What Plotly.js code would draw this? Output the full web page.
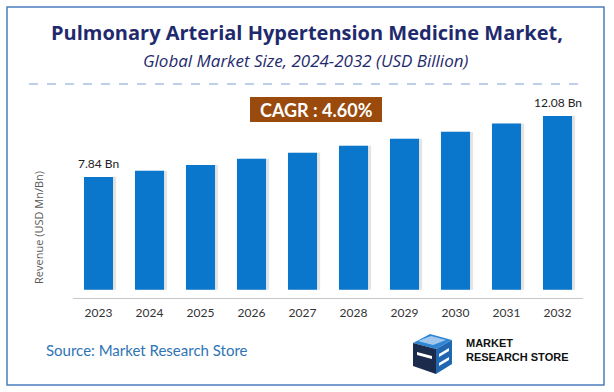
<!DOCTYPE html>
<html><head><meta charset="utf-8">
<script src="https://cdn.plot.ly/plotly-3.0.1.min.js"></script>
<style>html,body{margin:0;padding:0;background:#fff;}#chart{width:614px;height:392px;}</style>
</head><body><div id="chart"></div>
<script>
const years = ['2023','2024','2025','2026','2027','2028','2029','2030','2031','2032'];
const revenue = [7.84, 8.28, 8.67, 9.11, 9.53, 10.01, 10.50, 10.99, 11.56, 12.08];
const labeledIdx = [0, 9];
const labelText = ['7.84 Bn', '12.08 Bn'];
const titleText = 'Pulmonary Arterial Hypertension Medicine Market,';
const subtitleText = 'Global Market Size, 2024-2032 (USD Billion)';
const cagrText = 'CAGR : 4.60%';
const sourceText = 'Source: Market Research Store';
const logoText = ['MARKET', 'RESEARCH STORE'];

const W = 614, H = 392, L = 73, R = 583, T = 100, B = 298;
const px = x => (x - L) / (R - L);
const py = y => (B - y) / (B - T);

const barW = 0.57;
const traces = [
  {type:'bar', x: years, y: revenue, width: barW, offset: -barW/2 + 0.06,
   marker:{color:'rgba(120,120,120,0.2)'}, hoverinfo:'skip', showlegend:false},
  {type:'bar', x: years, y: revenue, width: barW, offset: -barW/2,
   marker:{color:'#0a77cc'}, showlegend:false}
];

const annotations = [
  {text:'<b>'+titleText+'</b>', xref:'paper', yref:'paper', x:px(307), y:py(33), showarrow:false,
   font:{family:'Open Sans', size:20, color:'#1f2a6e'}, xanchor:'center', yanchor:'middle'},
  {text:'<i>'+subtitleText+'</i>', xref:'paper', yref:'paper', x:px(305), y:py(60), showarrow:false,
   font:{family:'Open Sans', size:17, color:'#1f2a6e'}, xanchor:'center', yanchor:'middle'},
  {text:'<b>'+cagrText+'</b>', xref:'paper', yref:'paper', x:px(316), y:py(109.5), showarrow:false,
   font:{family:'Lato', size:18, color:'#ffffff'}, xanchor:'center', yanchor:'middle'},
  {text:'Revenue (USD Mn/Bn)', xref:'paper', yref:'paper', x:px(38), y:py(228), showarrow:false,
   textangle:-90, font:{family:'Open Sans', size:11, color:'#595959'}, xanchor:'center', yanchor:'middle'},
  {text:sourceText, xref:'paper', yref:'paper', x:px(44), y:py(350), showarrow:false,
   font:{family:'Lato', size:15, color:'#2e74b5'}, xanchor:'left', yanchor:'middle'},
  {text:'<b>'+logoText[0]+'</b><br><b>'+logoText[1]+'</b>', xref:'paper', yref:'paper', x:px(464), y:py(349.5), showarrow:false,
   align:'left', font:{family:'Liberation Sans', size:11, color:'#111'}, xanchor:'left', yanchor:'middle'}
];
labeledIdx.forEach((i, k) => {
  annotations.push({text:labelText[k], x: i, y: revenue[i], xref:'x', yref:'y',
    showarrow:false, yanchor:'bottom', yshift:4,
    font:{family:'Lato', size:12, color:'#222222'}});
});

const shapes = [
  {type:'rect', xref:'paper', yref:'paper', x0:px(7), x1:px(604), y0:py(7), y1:py(385),
   line:{color:'#4a7ebb', width:1.5}, fillcolor:'rgba(0,0,0,0)', layer:'below'},
  {type:'line', xref:'paper', yref:'paper', x0:px(29), x1:px(587), y0:py(84), y1:py(84),
   line:{color:'#7f9fd4', width:1, dash:'dash'}},
  {type:'rect', xref:'paper', yref:'paper', x0:px(250), x1:px(382), y0:py(97), y1:py(122),
   line:{width:0}, fillcolor:'#9a4a0c', layer:'below'},
  {type:'path', xref:'paper', yref:'paper', path:
    'M '+px(413)+','+py(343)+' L '+px(430)+','+py(334)+' L '+px(452)+','+py(340)+' L '+px(436)+','+py(349)+' Z',
   fillcolor:'#2f86d4', line:{width:0}},
  {type:'path', xref:'paper', yref:'paper', path:
    'M '+px(413)+','+py(343)+' L '+px(436)+','+py(349)+' L '+px(436)+','+py(374)+' L '+px(413)+','+py(366)+' Z',
   fillcolor:'#1a2b4c', line:{width:0}},
  {type:'path', xref:'paper', yref:'paper', path:
    'M '+px(436)+','+py(349)+' L '+px(452)+','+py(340)+' L '+px(452)+','+py(364)+' L '+px(436)+','+py(374)+' Z',
   fillcolor:'#2166b0', line:{width:0}},
  {type:'path', xref:'paper', yref:'paper', path:
    'M '+px(418)+','+py(341)+' L '+px(431)+','+py(336)+' L '+px(446)+','+py(340)+' L '+px(433)+','+py(345)+' Z',
   fillcolor:'rgba(255,255,255,0.55)', line:{width:0}},
  {type:'path', xref:'paper', yref:'paper', path:
    'M '+px(417)+','+py(352)+' L '+px(432)+','+py(356)+' L '+px(432)+','+py(359)+' L '+px(417)+','+py(355)+' Z',
   fillcolor:'#ffffff', line:{width:0}},
  {type:'path', xref:'paper', yref:'paper', path:
    'M '+px(439)+','+py(354)+' L '+px(449)+','+py(348)+' L '+px(449)+','+py(351)+' L '+px(439)+','+py(357)+' Z',
   fillcolor:'#ffffff', line:{width:0}},
  {type:'path', xref:'paper', yref:'paper', path:
    'M '+px(439)+','+py(363)+' L '+px(449)+','+py(357)+' L '+px(449)+','+py(360)+' L '+px(439)+','+py(366)+' Z',
   fillcolor:'#ffffff', line:{width:0}}
];

const layout = {
  width: W, height: H,
  margin: {l: L, r: W - R, t: T, b: H - B, pad: 0},
  paper_bgcolor:'#ffffff', plot_bgcolor:'#ffffff',
  barmode:'overlay',
  showlegend:false,
  xaxis:{type:'category', range:[-0.5, 9.5], showgrid:false, zeroline:false,
    showline:true, linecolor:'#c8c8c8', linewidth:1, ticks:'', ticklabelstandoff:4,
    tickfont:{family:'Lato', size:12, color:'#333333'}, fixedrange:true},
  yaxis:{range:[-0.57, 13.19], showgrid:false, zeroline:false, showline:false,
    showticklabels:false, ticks:'', fixedrange:true},
  annotations: annotations,
  shapes: shapes
};

Plotly.newPlot('chart', traces, layout, {displayModeBar:false, staticPlot:true});
</script>
</body></html>
